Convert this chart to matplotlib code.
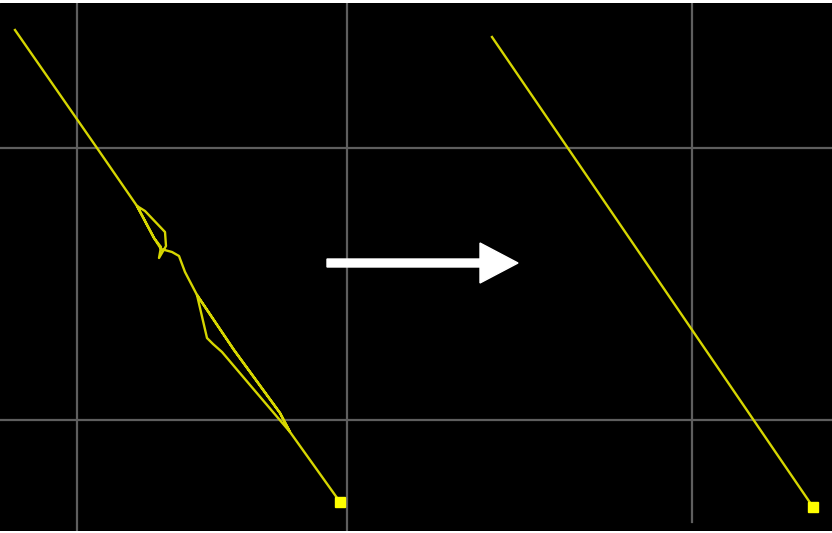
import matplotlib

matplotlib.use("Agg")
import matplotlib.pyplot as plt

# raw (jittery) track on the left, in screen pixels
track_x = [15, 97, 137, 145, 165, 166, 159, 161, 154, 137, 154, 161, 172, 179, 185, 197,
           207, 213, 222, 250, 290, 280, 234, 197, 234, 280, 290, 340]
track_y = [30, 148, 206, 211, 232, 246, 258, 247, 238, 206, 238, 249, 252, 256, 272, 295,
           338, 344, 352, 385, 432, 413, 350, 295, 350, 413, 432, 502]

# smoothed track on the right
smooth_x = [492, 813]
smooth_y = [37, 507]

grid_x = [77, 347, 692]
grid_y = [148, 420]

W, H = 832, 533

if __name__ == "__main__":
    fig = plt.figure(figsize=(W / 100, H / 100), dpi=100, facecolor="white")
    ax = fig.add_axes([0, 2 / H, 1, 528 / H])
    ax.set_facecolor("black")
    ax.set_xlim(0, W)
    ax.set_ylim(531, 3)
    ax.axis("off")
    ax.add_patch(plt.Rectangle((0, 3), W, 528, color="black", zorder=0))

    for gx in grid_x:
        bottom = 0.0 if gx < 400 else (531 - 522) / 528
        ax.axvline(gx, ymin=bottom, ymax=1.0, color="#5e5e5e", lw=1.6, zorder=1)
    for gy in grid_y:
        ax.axhline(gy, color="#5e5e5e", lw=1.6, zorder=1)

    ax.plot(track_x, track_y, color="#d6d600", lw=1.7, zorder=3)
    ax.plot(track_x[-1], track_y[-1], "s", color="#ffff00", ms=7, zorder=4)

    ax.plot(smooth_x, smooth_y, color="#d6d600", lw=1.7, zorder=3)
    ax.plot(smooth_x[-1], smooth_y[-1], "s", color="#ffff00", ms=7, zorder=4)

    ax.arrow(327, 263, 191, 0, width=8, head_width=40, head_length=38,
             length_includes_head=True, color="white", zorder=5)

    plt.savefig("out.png", dpi=100, facecolor=fig.get_facecolor())
